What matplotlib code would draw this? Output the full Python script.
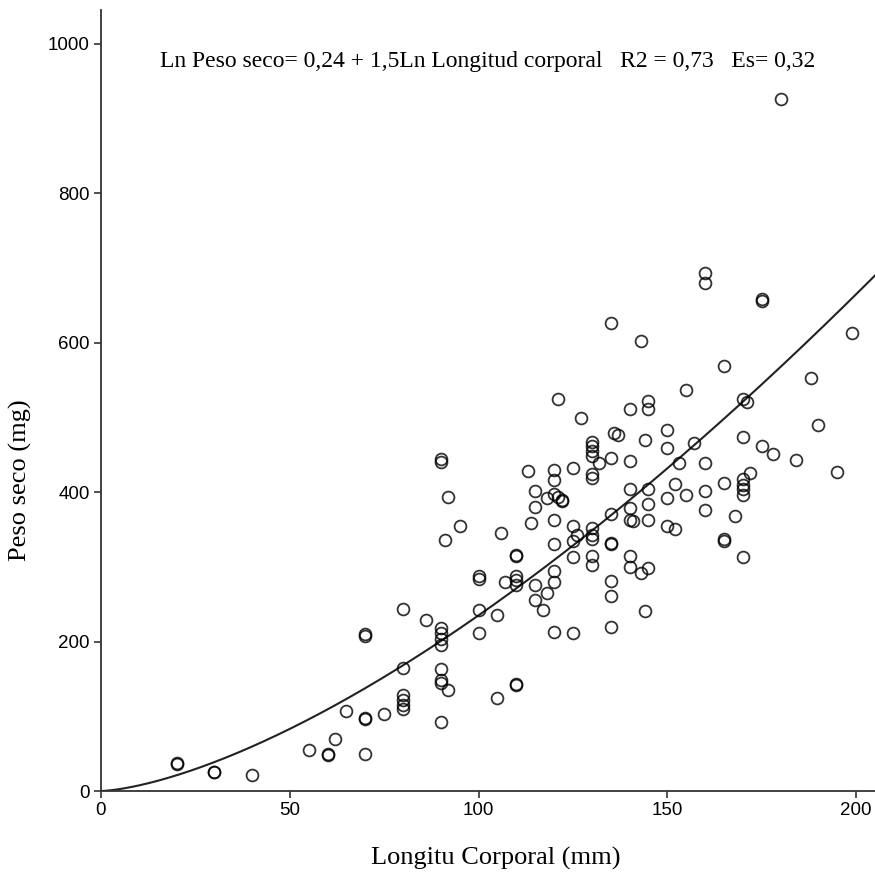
import numpy as np
import matplotlib
matplotlib.use('Agg')
import matplotlib.pyplot as plt

# Data
longitud = [20, 20, 30, 30, 40, 55, 60, 60, 62, 65, 70, 70, 70, 70, 70, 75,
            80, 80, 80, 80, 80, 80, 86, 90, 90, 92, 95, 91, 90, 90, 90, 90,
            90, 90, 90, 92, 90, 100, 100, 100, 100, 105, 106, 105, 110, 110,
            110, 110, 110, 110, 110, 107, 113, 114, 115, 115, 115, 115, 117, 118,
            120, 120, 120, 120, 120, 120, 120, 120, 121, 122, 121, 122, 118,
            125, 125, 126, 125, 125, 125, 127,
            130, 130, 130, 130, 130, 130, 130, 130, 130, 130, 130, 132,
            135, 135, 135, 135, 135, 135, 135, 135, 136, 137,
            140, 140, 140, 140, 140, 141, 140, 140, 143, 143, 144, 144,
            145, 145, 145, 145, 145, 145, 150, 150, 150, 150, 152, 152, 153,
            155, 155, 157, 160, 160, 175, 175, 180, 160, 160, 160,
            165, 165, 165, 165, 168, 170, 171, 170, 170, 170, 170, 170, 170,
            172, 175, 178, 184, 188, 190, 195, 199]
peso = [37, 36, 26, 25, 21, 55, 49, 48, 70, 107, 49, 98, 97, 210, 208, 103,
        165, 129, 122, 115, 110, 243, 229, 444, 440, 393, 355, 336, 218, 211, 203, 195,
        163, 149, 145, 135, 92, 242, 212, 288, 284, 235, 345, 124, 143, 142,
        316, 315, 288, 282, 276, 280, 428, 358, 401, 380, 276, 256, 242, 265,
        429, 416, 397, 362, 331, 294, 279, 213, 525, 390, 393, 388, 392,
        432, 355, 343, 334, 313, 212, 499,
        467, 461, 455, 448, 424, 419, 352, 343, 337, 314, 303, 439,
        626, 446, 370, 332, 330, 281, 261, 219, 479, 476,
        511, 441, 404, 379, 363, 361, 314, 300, 602, 292, 241, 470,
        522, 511, 404, 384, 362, 298, 483, 459, 392, 355, 350, 411, 439,
        537, 396, 465, 693, 680, 658, 656, 926, 439, 402, 376,
        569, 412, 337, 334, 368, 524, 521, 474, 417, 410, 404, 396, 313,
        426, 461, 451, 443, 552, 490, 427, 613]

# power fit: Peso = a * Longitud^b
coef_a = 0.235
coef_b = 1.5
ecuacion = 'Ln Peso seco= 0,24 + 1,5Ln Longitud corporal   R2 = 0,73   Es= 0,32'

x_ticks = [0, 50, 100, 150, 200]
y_ticks = [0, 200, 400, 600, 800, 1000]

# Plot
fig = plt.figure(figsize=(8.75, 8.77), dpi=100)
ax = fig.add_axes([101 / 875, 86 / 877, 774 / 875, 781 / 877])

ax.plot(longitud, peso, linestyle='none', marker='o', ms=8.5, mew=1.3,
        mfc='none', mec='black', alpha=0.8, zorder=3)

xs = np.linspace(0, 206, 400)
ax.plot(xs, coef_a * xs ** coef_b, color='#222222', lw=1.5, zorder=2)

ax.set_xlim(0, 205)
ax.set_ylim(0, 1045)
ax.set_xticks(x_ticks)
ax.set_yticks(y_ticks)

for s in ['top', 'right']:
    ax.spines[s].set_visible(False)
for s in ['left', 'bottom']:
    ax.spines[s].set_color('#333333')
    ax.spines[s].set_linewidth(1.3)

ax.tick_params(direction='out', length=5, width=1.2, color='#333333',
               labelsize=13.5, pad=3)
for lab in ax.get_xticklabels() + ax.get_yticklabels():
    lab.set_family('Liberation Sans')

ax.text(15.6, 976, ecuacion, family='Liberation Serif', fontsize=17,
        va='center', ha='left')

ax.set_xlabel('Longitu Corporal (mm)', family='Liberation Serif', fontsize=19,
              va='center')
ax.set_ylabel('Peso seco (mg)', family='Liberation Serif', fontsize=19,
              va='center')
ax.xaxis.set_label_coords(0.51, -0.086)
ax.yaxis.set_label_coords(-0.104, 0.398)

plt.savefig('out.png', dpi=100)
